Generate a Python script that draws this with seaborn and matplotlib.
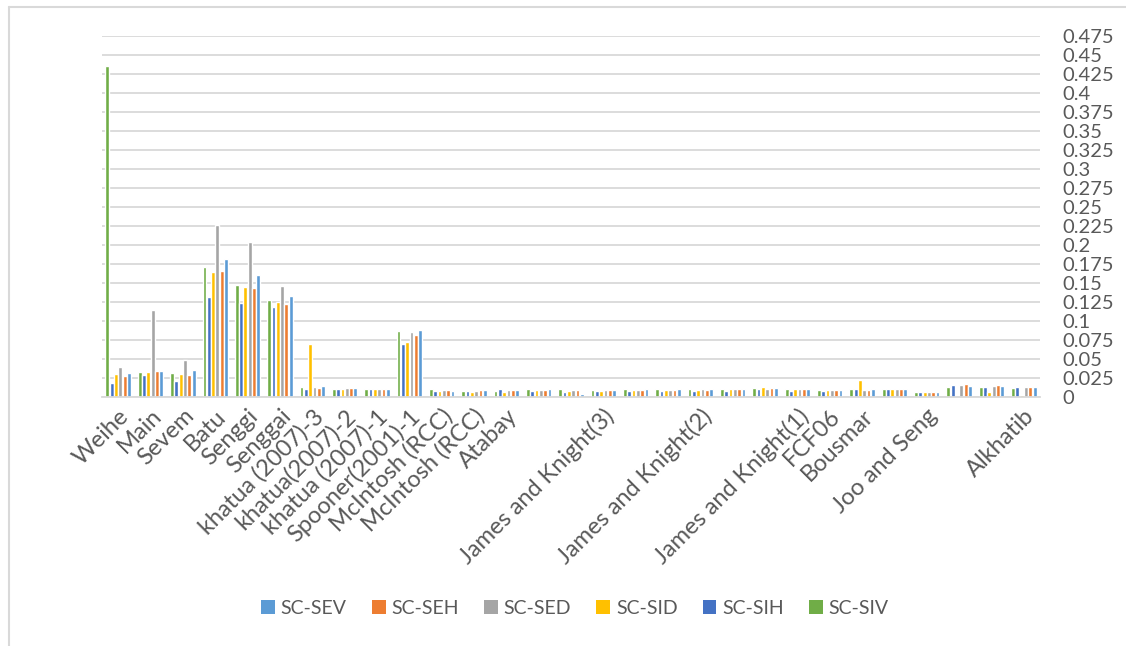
import numpy as np
import pandas as pd
import matplotlib
matplotlib.use("Agg")
import matplotlib.pyplot as plt
from matplotlib.lines import Line2D
from matplotlib.patches import Patch
import seaborn as sns

# Channel / study names (blank entries are unnamed data sets)
categories = [
    "Weihe", "Main", "Sevem", "Batu", "Senggi", "Senggai",
    "khatua (2007)-3", "khatua(2007)-2", "khatua (2007)-1", "Spooner(2001)-1",
    "McIntosh (RCC)", "McIntosh (RCC)", "Atabay", "", "",
    "James and Knight(3)", "", "", "James and Knight(2)", "", "",
    "James and Knight(1)", "FCF06", "Bousmar", "", "Joo and Seng", "", "",
    "Alkhatib",
]

sc_siv = [0.4355, 0.033, 0.031, 0.171, 0.148, 0.1276, 0.013, 0.011, 0.010, 0.087,
          0.010, 0.0079, 0.0083, 0.010, 0.010, 0.0088, 0.010, 0.010, 0.010, 0.011,
          0.0123, 0.010, 0.0088, 0.010, 0.010, 0.007, 0.0136, 0.0136, 0.0123]
sc_sih = [0.019, 0.0285, 0.021, 0.132, 0.124, 0.119, 0.011, 0.011, 0.0105, 0.070,
          0.0075, 0.0079, 0.010, 0.0075, 0.007, 0.0075, 0.0075, 0.0079, 0.0079, 0.0083,
          0.010, 0.0083, 0.0075, 0.010, 0.010, 0.006, 0.0162, 0.0136, 0.013]
sc_sid = [0.030, 0.033, 0.030, 0.1645, 0.145, 0.125, 0.070, 0.011, 0.010, 0.073,
          0.0075, 0.006, 0.0066, 0.0088, 0.0083, 0.0083, 0.0092, 0.0092, 0.0096, 0.010,
          0.0127, 0.010, 0.0088, 0.0228, 0.010, 0.006, 0.001, 0.006, 0.002]
sc_sed = [0.039, 0.115, 0.049, 0.226, 0.2035, 0.1456, 0.013, 0.012, 0.0105, 0.086,
          0.0088, 0.0079, 0.0088, 0.0088, 0.0088, 0.0088, 0.0096, 0.0096, 0.010, 0.010,
          0.010, 0.010, 0.0088, 0.0092, 0.011, 0.007, 0.0162, 0.0145, 0.0136]
sc_seh = [0.028, 0.034, 0.0285, 0.166, 0.144, 0.1224, 0.012, 0.012, 0.011, 0.0816,
          0.0088, 0.0092, 0.0088, 0.0088, 0.0088, 0.0088, 0.0096, 0.0096, 0.0096, 0.010,
          0.0118, 0.010, 0.0088, 0.0092, 0.011, 0.007, 0.0167, 0.0154, 0.0136]
sc_sev = [0.032, 0.034, 0.0355, 0.181, 0.160, 0.133, 0.014, 0.012, 0.0105, 0.088,
          0.0083, 0.0088, 0.0088, 0.010, 0.0035, 0.0096, 0.011, 0.0105, 0.010, 0.011,
          0.0123, 0.011, 0.0096, 0.010, 0.011, 0.007, 0.0145, 0.015, 0.013]

series_names = ["SC-SIV", "SC-SIH", "SC-SID", "SC-SED", "SC-SEH", "SC-SEV"]
series_values = [sc_siv, sc_sih, sc_sid, sc_sed, sc_seh, sc_sev]
colors = {
    "SC-SIV": "#70AD47",
    "SC-SIH": "#4472C4",
    "SC-SID": "#FFC000",
    "SC-SED": "#A5A5A5",
    "SC-SEH": "#ED7D31",
    "SC-SEV": "#5B9BD5",
}
yticks = np.arange(0, 0.476, 0.025)
ytick_labels = ["0", "0.025", "0.05", "0.075", "0.1", "0.125", "0.15", "0.175",
                "0.2", "0.225", "0.25", "0.275", "0.3", "0.325", "0.35", "0.375",
                "0.4", "0.425", "0.45", "0.475"]

rows = []
for name, vals in zip(series_names, series_values):
    for i, v in enumerate(vals):
        rows.append({"idx": i, "value": v, "series": name})
df = pd.DataFrame(rows)

sns.set_theme(style="white")
plt.rcParams["font.family"] = ["Lato", "DejaVu Sans"]
text_color = "#595959"
grid_color = "#D9D9D9"

fig = plt.figure(figsize=(11.26, 6.46), dpi=100)
ax = fig.add_axes([102 / 1126, 1 - 397 / 646, (1040 - 102) / 1126, (397 - 36) / 646])

sns.barplot(data=df, x="idx", y="value", hue="series", hue_order=series_names,
            palette=colors, width=0.8, gap=0.12, saturation=1, ax=ax,
            legend=False, errorbar=None, order=list(range(len(categories))))

ax.set_ylim(0, 0.475)
ax.set_xlim(-0.5, len(categories) - 0.5)
ax.set_yticks(yticks)
ax.set_yticklabels(ytick_labels)
ax.yaxis.tick_right()
ax.tick_params(axis="y", length=0, pad=16, labelsize=14.5, labelcolor=text_color)
ax.set_xticks(range(len(categories)))
ax.set_xticklabels(categories, rotation=45, ha="right", rotation_mode="anchor")
ax.tick_params(axis="x", length=0, pad=6, labelsize=17, labelcolor=text_color)
ax.set_xlabel("")
ax.set_ylabel("")

ax.yaxis.grid(True, color=grid_color, linewidth=1.3)
ax.set_axisbelow(True)
for s in ["top", "right", "left"]:
    ax.spines[s].set_visible(False)
ax.spines["bottom"].set_color(grid_color)
ax.spines["bottom"].set_linewidth(1.3)

# Legend in reverse series order
legend_order = series_names[::-1]
handles = [Patch(facecolor=colors[n], edgecolor="none") for n in legend_order]
fig.legend(handles, legend_order, loc="center", bbox_to_anchor=(575 / 1126, 1 - 608 / 646),
           ncol=6, frameon=False, fontsize=14, labelcolor=text_color,
           handlelength=0.7, handleheight=0.7, handletextpad=0.3, columnspacing=1.3)

# Chart frame
fig.add_artist(Line2D([8.5 / 1126, 8.5 / 1126], [0, 1 - 6.5 / 646],
                      transform=fig.transFigure, color=grid_color, linewidth=1.5))
fig.add_artist(Line2D([8.5 / 1126, 1], [1 - 6.5 / 646, 1 - 6.5 / 646],
                      transform=fig.transFigure, color=grid_color, linewidth=1.5))

fig.savefig("out.png", dpi=100)
